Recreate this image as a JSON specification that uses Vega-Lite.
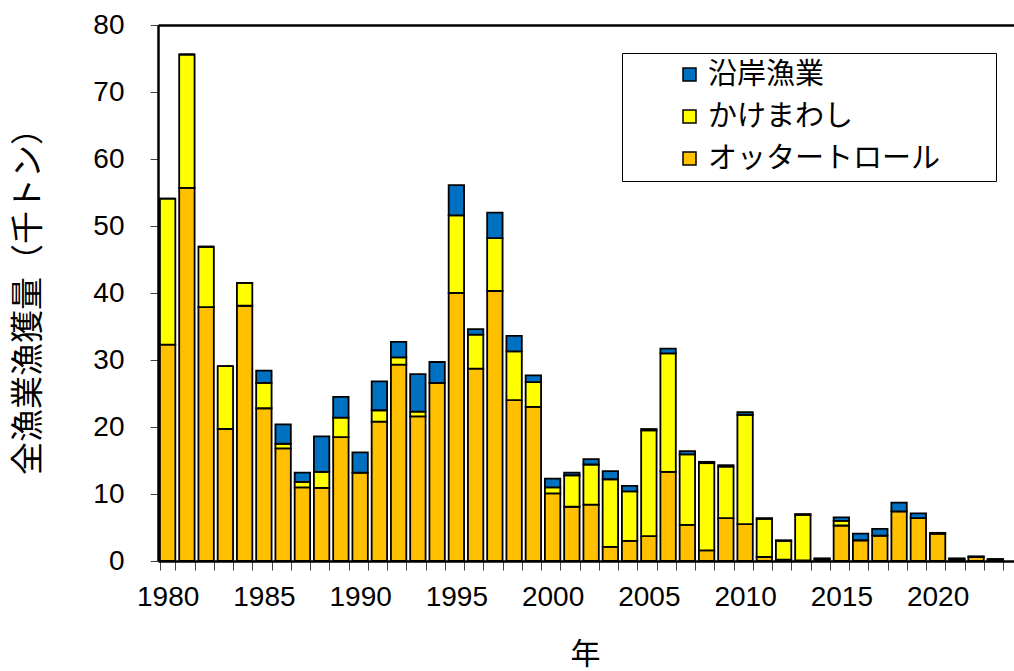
{
  "$schema": "https://vega.github.io/schema/vega-lite/v6.json",
  "autosize": {"type": "none"},
  "width": 856,
  "height": 536,
  "padding": {"left": 158, "top": 25, "right": 0, "bottom": 110},
  "background": "white",
  "config": {
    "view": {"stroke": null},
    "font": "Liberation Sans"
  },
  "data": {
    "values": [
      {"year": 1980, "otter": 32.3, "kake": 21.8, "coastal": 0},
      {"year": 1981, "otter": 55.7, "kake": 19.9, "coastal": 0},
      {"year": 1982, "otter": 37.9, "kake": 9.0, "coastal": 0},
      {"year": 1983, "otter": 19.7, "kake": 9.4, "coastal": 0},
      {"year": 1984, "otter": 38.1, "kake": 3.4, "coastal": 0},
      {"year": 1985, "otter": 22.8, "kake": 3.8, "coastal": 1.8},
      {"year": 1986, "otter": 16.8, "kake": 0.7, "coastal": 2.9},
      {"year": 1987, "otter": 11.0, "kake": 0.8, "coastal": 1.4},
      {"year": 1988, "otter": 10.9, "kake": 2.4, "coastal": 5.3},
      {"year": 1989, "otter": 18.5, "kake": 2.9, "coastal": 3.1},
      {"year": 1990, "otter": 13.2, "kake": 0.0, "coastal": 3.0},
      {"year": 1991, "otter": 20.8, "kake": 1.7, "coastal": 4.3},
      {"year": 1992, "otter": 29.3, "kake": 1.1, "coastal": 2.3},
      {"year": 1993, "otter": 21.6, "kake": 0.7, "coastal": 5.6},
      {"year": 1994, "otter": 26.6, "kake": 0.0, "coastal": 3.1},
      {"year": 1995, "otter": 40.0, "kake": 11.6, "coastal": 4.5},
      {"year": 1996, "otter": 28.7, "kake": 5.1, "coastal": 0.8},
      {"year": 1997, "otter": 40.3, "kake": 7.9, "coastal": 3.8},
      {"year": 1998, "otter": 24.0, "kake": 7.3, "coastal": 2.3},
      {"year": 1999, "otter": 23.0, "kake": 3.7, "coastal": 1.0},
      {"year": 2000, "otter": 10.1, "kake": 0.9, "coastal": 1.3},
      {"year": 2001, "otter": 8.1, "kake": 4.7, "coastal": 0.4},
      {"year": 2002, "otter": 8.4, "kake": 6.0, "coastal": 0.8},
      {"year": 2003, "otter": 2.1, "kake": 10.1, "coastal": 1.2},
      {"year": 2004, "otter": 3.0, "kake": 7.4, "coastal": 0.8},
      {"year": 2005, "otter": 3.7, "kake": 15.8, "coastal": 0.2},
      {"year": 2006, "otter": 13.3, "kake": 17.7, "coastal": 0.7},
      {"year": 2007, "otter": 5.4, "kake": 10.5, "coastal": 0.5},
      {"year": 2008, "otter": 1.6, "kake": 13.0, "coastal": 0.2},
      {"year": 2009, "otter": 6.4, "kake": 7.7, "coastal": 0.2},
      {"year": 2010, "otter": 5.5, "kake": 16.3, "coastal": 0.4},
      {"year": 2011, "otter": 0.6, "kake": 5.7, "coastal": 0.1},
      {"year": 2012, "otter": 0.2, "kake": 2.8, "coastal": 0.1},
      {"year": 2013, "otter": 0.1, "kake": 6.8, "coastal": 0.1},
      {"year": 2014, "otter": 0.3, "kake": 0.0, "coastal": 0.1},
      {"year": 2015, "otter": 5.3, "kake": 0.7, "coastal": 0.5},
      {"year": 2016, "otter": 3.1, "kake": 0.0, "coastal": 1.0},
      {"year": 2017, "otter": 3.8, "kake": 0.0, "coastal": 1.0},
      {"year": 2018, "otter": 7.4, "kake": 0.0, "coastal": 1.3},
      {"year": 2019, "otter": 6.4, "kake": 0.0, "coastal": 0.7},
      {"year": 2020, "otter": 4.1, "kake": 0.0, "coastal": 0.1},
      {"year": 2021, "otter": 0.3, "kake": 0.0, "coastal": 0.1},
      {"year": 2022, "otter": 0.6, "kake": 0.0, "coastal": 0.1},
      {"year": 2023, "otter": 0.2, "kake": 0.0, "coastal": 0.1}
    ]
  },
  "transform": [
    {"fold": ["otter", "kake", "coastal"], "as": ["series", "amount"]}
  ],
  "resolve": {"axis": {"x": "independent", "y": "independent"}},
  "layer": [
    {
      "mark": {"type": "bar", "stroke": "black", "strokeWidth": 1.8},
      "encoding": {
        "x": {
          "field": "year",
          "type": "ordinal",
          "scale": {"paddingInner": 0.2, "paddingOuter": 0.335, "align": 0.15},
          "axis": {
            "orient": "bottom",
            "title": "年",
            "titleFont": "Noto Sans CJK JP",
            "titleFontSize": 30,
            "titleFontWeight": "normal",
            "titleColor": "black",
            "titleX": 427,
            "titleY": 93,
            "titleBaseline": "middle",
            "labelExpr": "datum.value % 5 === 0 ? datum.label : ''",
            "labelAngle": 0,
            "labelFont": "Liberation Sans",
            "labelFontSize": 28,
            "labelColor": "black",
            "labelPadding": 13,
            "labelOverlap": false,
            "labelFlush": false,
            "tickBand": "extent",
            "tickSize": 9,
            "tickColor": "#444",
            "tickWidth": 1,
            "domainColor": "black",
            "domainWidth": 2.5,
            "grid": false
          }
        },
        "y": {
          "field": "amount",
          "type": "quantitative",
          "scale": {"domain": [0, 80], "nice": false},
          "axis": {
            "title": "全漁業漁獲量（千トン）",
            "titleFont": "Noto Sans CJK JP",
            "titleFontSize": 33,
            "titleFontWeight": "normal",
            "titleColor": "black",
            "titleX": -130,
            "titleY": 268,
            "titleBaseline": "middle",
            "titleAlign": "center",
            "values": [0, 10, 20, 30, 40, 50, 60, 70, 80],
            "labelFont": "Liberation Sans",
            "labelFontSize": 28,
            "labelColor": "black",
            "labelPadding": 26,
            "tickSize": 8,
            "tickColor": "#444",
            "tickWidth": 1,
            "domainColor": "black",
            "domainWidth": 2.5,
            "grid": false
          }
        },
        "color": {
          "field": "series",
          "type": "nominal",
          "scale": {
            "domain": ["coastal", "kake", "otter"],
            "range": ["#0070C0", "#FFFF00", "#FFC000"]
          },
          "legend": {
            "orient": "none",
            "legendX": 464,
            "legendY": 28,
            "title": " ",
            "titleOrient": "right",
            "titleFontSize": 10,
            "titlePadding": 49,
            "labelExpr": "datum.value === 'coastal' ? '沿岸漁業' : datum.value === 'kake' ? 'かけまわし' : 'オッタートロール'",
            "labelFont": "Noto Sans CJK JP",
            "labelFontSize": 29,
            "labelColor": "black",
            "labelLimit": 400,
            "labelOffset": 4,
            "symbolType": "square",
            "symbolSize": 169,
            "symbolStrokeColor": "black",
            "symbolStrokeWidth": 1.5,
            "symbolOffset": 46,
            "rowPadding": 12,
            "padding": 7,
            "strokeColor": "black",
            "fillColor": "white"
          }
        }
      }
    },
    {
      "mark": {"type": "bar", "opacity": 0},
      "encoding": {
        "x": {
          "field": "year",
          "type": "ordinal",
          "axis": {
            "orient": "top",
            "title": null,
            "labels": false,
            "ticks": false,
            "domainColor": "black",
            "domainWidth": 2.5,
            "grid": false
          }
        },
        "y": {
          "field": "amount",
          "type": "quantitative",
          "axis": null
        }
      }
    }
  ]
}
